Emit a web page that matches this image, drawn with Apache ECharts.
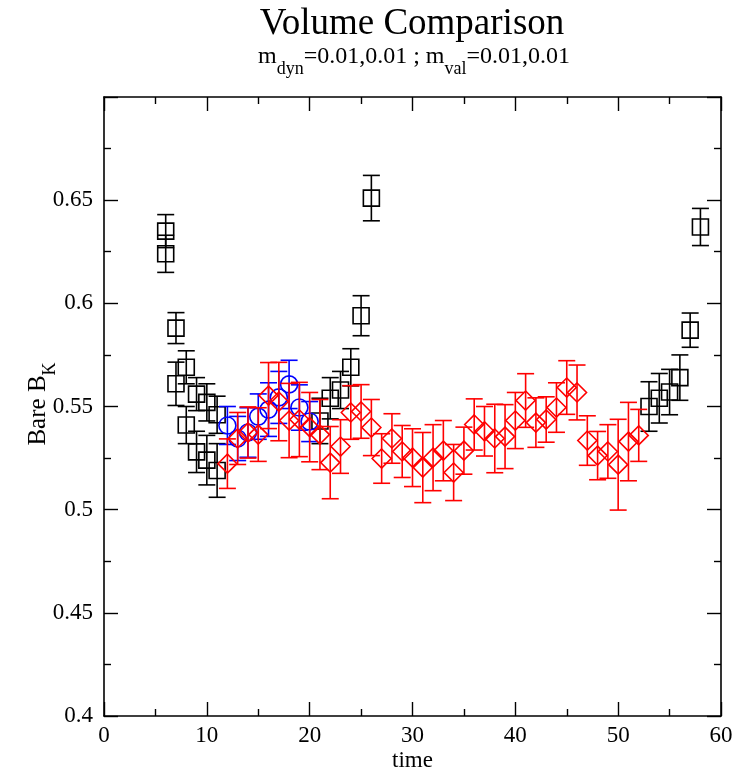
<!DOCTYPE html>
<html><head><meta charset="utf-8">
<script src="https://cdn.jsdelivr.net/npm/echarts@6/dist/echarts.min.js"></script>
<style>html,body{margin:0;padding:0;background:#fff}#c{width:740px;height:775px}</style>
</head><body><div id="c"></div>
<script>
// ---- data ----
const xTicks = [0, 10, 20, 30, 40, 50, 60];
const yTicks = [0.4, 0.45, 0.5, 0.55, 0.6, 0.65, 0.7];

const blackATime = [6, 7, 8, 9, 10, 11, 21, 22, 23, 24, 25, 26, 53, 54, 55, 56, 57, 58];
const blackAVal  = [0.635, 0.588, 0.569, 0.556, 0.552, 0.546, 0.543, 0.554, 0.558, 0.569, 0.594, 0.651, 0.550, 0.554, 0.557, 0.564, 0.587, 0.637];
const blackAErr  = [0.008, 0.0075, 0.008, 0.008, 0.009, 0.009, 0.011, 0.010, 0.009, 0.009, 0.0097, 0.011, 0.012, 0.012, 0.011, 0.011, 0.0083, 0.009];

const blackBTime = [6, 7, 8, 9, 10, 11];
const blackBVal  = [0.624, 0.561, 0.541, 0.528, 0.524, 0.519];
const blackBErr  = [0.009, 0.0105, 0.009, 0.010, 0.012, 0.013];

const blueTime = [12, 13, 14, 15, 16, 17, 18, 19, 20];
const blueVal  = [0.5408, 0.5345, 0.5374, 0.5451, 0.5485, 0.5544, 0.5607, 0.5495, 0.5427];
const blueErr  = [0.0092, 0.0107, 0.012, 0.011, 0.013, 0.0126, 0.0117, 0.011, 0.0097];

const redTime = [12, 13, 14, 15, 16, 17, 18, 19, 20, 21, 22, 23, 24, 25, 26, 27, 28, 29, 30, 31, 32,
                 33, 34, 35, 36, 37, 38, 39, 40, 41, 42, 43, 44, 45, 46, 47, 48, 49, 50, 51, 52];
const redVal  = [0.5223, 0.5345, 0.5374, 0.5364, 0.5553, 0.5524, 0.5432, 0.5437, 0.5400, 0.5364, 0.5228,
                 0.5306, 0.5471, 0.5476, 0.5398, 0.5248, 0.5345, 0.5282, 0.5252, 0.5204, 0.5252,
                 0.5286, 0.5180, 0.5286, 0.5413, 0.5380, 0.5345, 0.5354, 0.5432, 0.5529, 0.5422,
                 0.5437, 0.5495, 0.5592, 0.5568, 0.5335, 0.5262, 0.5282, 0.5218, 0.5330, 0.5360];
const redErr  = [0.012, 0.0126, 0.0124, 0.013, 0.016, 0.019, 0.018, 0.018, 0.0168, 0.017, 0.0175,
                 0.013, 0.013, 0.013, 0.0136, 0.012, 0.012, 0.0126, 0.014, 0.017, 0.016,
                 0.0146, 0.0136, 0.0114, 0.0124, 0.012, 0.0166, 0.0155, 0.0136, 0.013, 0.012,
                 0.011, 0.012, 0.013, 0.0133, 0.012, 0.0117, 0.013, 0.022, 0.019, 0.0126];

// ---- chart ----
const FONT = '"Liberation Serif", "Times New Roman", serif';
const LW = 1.6;

function errSeries(times, vals, errs, color, z) {
  return {
    type: 'custom', silent: true, z: z, clip: false,
    data: times.map((t, i) => [t, vals[i] - errs[i], vals[i] + errs[i]]),
    encode: { x: 0, y: [1, 2] },
    renderItem: function (params, api) {
      const lo = api.coord([api.value(0), api.value(1)]);
      const hi = api.coord([api.value(0), api.value(2)]);
      const w = 8.5;
      const st = { stroke: color, lineWidth: LW };
      return { type: 'group', children: [
        { type: 'line', shape: { x1: lo[0], y1: lo[1], x2: hi[0], y2: hi[1] }, style: st },
        { type: 'line', shape: { x1: lo[0] - w, y1: lo[1], x2: lo[0] + w, y2: lo[1] }, style: st },
        { type: 'line', shape: { x1: hi[0] - w, y1: hi[1], x2: hi[0] + w, y2: hi[1] }, style: st }
      ]};
    }
  };
}
function markSeries(times, vals, color, symbol, size, z) {
  return {
    type: 'scatter', silent: true, z: z,
    data: times.map((t, i) => [t, vals[i]]),
    symbol: symbol, symbolSize: size,
    itemStyle: { color: 'rgba(0,0,0,0)', borderColor: color, borderWidth: LW, opacity: 1 },
    emphasis: { disabled: true }
  };
}

function axisCommon() {
  return {
    axisLine: { onZero: false, lineStyle: { color: '#000', width: 1.6 } },
    axisTick: { inside: true, length: 14, lineStyle: { color: '#000', width: 1.4 } },
    minorTick: { show: true, splitNumber: 2, length: 7, lineStyle: { color: '#000', width: 1.4 } },
    splitLine: { show: false }
  };
}

const xFmt = v => (xTicks.indexOf(v) >= 0 ? String(v) : '');
const yFmt = v => {
  const r = parseFloat(v.toFixed(3));
  if (Math.abs(r - yTicks[yTicks.length - 1]) < 1e-9) return '';
  return String(r);
};

const xBase = { type: 'value', min: xTicks[0], max: xTicks[xTicks.length - 1], interval: 10 };
const yBase = { type: 'value', min: yTicks[0], max: yTicks[yTicks.length - 1], interval: 0.05 };

const option = {
  animation: false,
  backgroundColor: '#fff',
  grid: { left: 104, right: 19, top: 97, bottom: 59, containLabel: false, outerBoundsMode: 'none' },
  xAxis: [
    Object.assign({}, xBase, axisCommon(), {
      position: 'bottom',
      name: 'time', nameLocation: 'middle', nameGap: 33, nameMoveOverlap: false,
      nameTextStyle: { fontFamily: FONT, fontSize: 23, color: '#000' },
      axisLabel: { fontFamily: FONT, fontSize: 23, color: '#000', margin: 8, formatter: xFmt }
    }),
    Object.assign({}, xBase, axisCommon(), { position: 'top', axisLabel: { show: false } })
  ],
  yAxis: [
    Object.assign({}, yBase, axisCommon(), {
      position: 'left',
      axisLabel: { fontFamily: FONT, fontSize: 23, color: '#000', margin: 11, formatter: yFmt }
    }),
    Object.assign({}, yBase, axisCommon(), { position: 'right', axisLabel: { show: false } })
  ],
  graphic: [
    { type: 'text', x: 412, y: 24, silent: true,
      style: { text: 'Volume Comparison', font: '37px ' + FONT, fill: '#000', align: 'center', verticalAlign: 'middle' } },
    { type: 'text', x: 414, y: 58, silent: true,
      style: {
        text: '{n|m}{s|dyn}{n|=0.01,0.01 ; m}{s|val}{n|=0.01,0.01}',
        align: 'center', verticalAlign: 'middle', fill: '#000', font: '24px ' + FONT,
        rich: {
          n: { fontFamily: FONT, fontSize: 24, lineHeight: 26, verticalAlign: 'top', fill: '#000' },
          s: { fontFamily: FONT, fontSize: 18, lineHeight: 18, padding: [15, 0, 0, 0], verticalAlign: 'top', fill: '#000' }
        }
      } },
    { type: 'text', x: 39, y: 404, rotation: Math.PI / 2, silent: true,
      style: {
        text: '{n|Bare B}{s|K}',
        align: 'center', verticalAlign: 'middle', fill: '#000', font: '25px ' + FONT,
        rich: {
          n: { fontFamily: FONT, fontSize: 25, lineHeight: 26, verticalAlign: 'top', fill: '#000' },
          s: { fontFamily: FONT, fontSize: 18, lineHeight: 18, padding: [15, 0, 0, 0], verticalAlign: 'top', fill: '#000' }
        }
      } }
  ],
  series: [
    errSeries(blackATime, blackAVal, blackAErr, '#000', 2),
    markSeries(blackATime, blackAVal, '#000', 'rect', 16, 3),
    errSeries(blackBTime, blackBVal, blackBErr, '#000', 2),
    markSeries(blackBTime, blackBVal, '#000', 'rect', 16, 3),
    errSeries(blueTime, blueVal, blueErr, '#0000ff', 4),
    markSeries(blueTime, blueVal, '#0000ff', 'circle', 17, 5),
    errSeries(redTime, redVal, redErr, '#ff0000', 6),
    markSeries(redTime, redVal, '#ff0000', 'diamond', 19, 7)
  ]
};

const chart = echarts.init(document.getElementById('c'), null, { renderer: 'canvas' });
chart.setOption(option);
</script>
</body></html>
